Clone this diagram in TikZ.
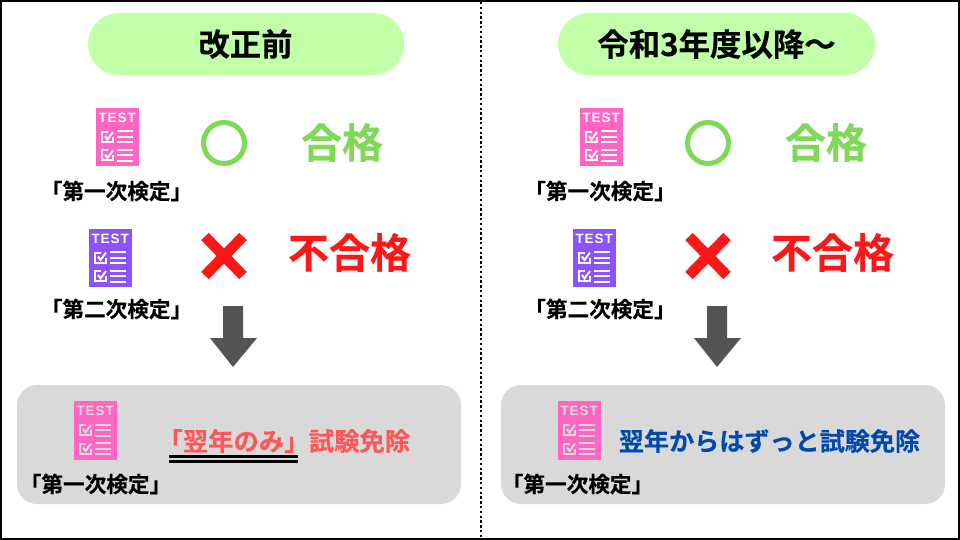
\documentclass[tikz,border=0pt]{standalone}
\usepackage{fontspec}
\setmainfont{Noto Sans CJK JP}[BoldFont={* Bold},BoldFeatures={FakeBold=0.25}]
\newfontfamily\iconfont{Liberation Sans}[BoldFont={* Bold},LetterSpace=7]
\definecolor{pillgreen}{HTML}{C1FFA8}
\definecolor{okgreen}{HTML}{7ED957}
\definecolor{ngred}{HTML}{FF1616}
\definecolor{softred}{HTML}{FF5757}
\definecolor{navy}{HTML}{004AAD}
\definecolor{pinkicon}{HTML}{FF66C4}
\definecolor{purpleicon}{HTML}{8C52FF}
\definecolor{panelgray}{HTML}{D9D9D9}
\definecolor{arrowgray}{HTML}{545454}
\tikzset{
  x=1pt,y=-1pt,
  pill/.style={fill=pillgreen,draw=none,rounded corners=31pt},
  titletext/.style={font=\fontsize{31.4}{31.4}\selectfont\bfseries},
  labeltext/.style={font=\fontsize{21.6}{21.6}\selectfont\bfseries},
  goodtext/.style={font=\fontsize{41}{41}\selectfont\bfseries,text=okgreen},
  badtext/.style={font=\fontsize{41}{41}\selectfont\bfseries,text=ngred},
  panel/.style={fill=panelgray,draw=none,rounded corners=20pt},
  bigarrow/.style={fill=arrowgray,draw=none},
  pics/testicon/.style n args={2}{code={
    \fill[#1] (0,0) rectangle (42.5,58.5);
    \node[text=#2,font=\iconfont\fontsize{13.5}{13.5}\selectfont\bfseries,inner sep=0pt] at (21.2,10) {TEST};
    \begin{scope}[draw=#2,line width=2pt]
      \foreach \yo in {0,18.5}{
        \draw (16.5,29+\yo) -- (16.5,34+\yo) -- (6,34+\yo) -- (6,24+\yo) -- (12,24+\yo);
        \draw (9,28+\yo) -- (11.5,31.5+\yo) -- (17,24+\yo);
        \draw (21,23.5+\yo) -- (37,23.5+\yo);
        \draw (21,29+\yo) -- (37,29+\yo);
        \draw (21,34.5+\yo) -- (37,34.5+\yo);
      }
    \end{scope}
  }}
}
\begin{document}
\begin{tikzpicture}
\useasboundingbox (0,0) rectangle (960,540);
\fill[white] (0,0) rectangle (960,540);
% title pills
\fill[pill] (88,13) rectangle (404,75);
\fill[pill] (558,13) rectangle (875,75);
\node[titletext] (titleL) at (245.5,44) {改正前};
\node[titletext] (titleR) at (716.5,44) {令和3年度以降～};
% left column
\pic at (96,108) {testicon={pinkicon}{white}};
\node[labeltext] (l1) at (116.5,191) {「第一次検定」};
\draw[okgreen,line width=5pt] (224,143) circle (20.5pt);
\node[goodtext] (gl) at (342,142.5) {合格};
\pic at (89,228.5) {testicon={purpleicon}{white}};
\node[labeltext] (l2) at (116.5,309) {「第二次検定」};
\draw[ngred,line width=10.5pt] (205,236.5) -- (243,275.5) (243,236.5) -- (205,275.5);
\node[badtext] (bl) at (349.5,252.5) {不合格};
\fill[bigarrow] (223,306) -- (243,306) -- (243,338) -- (257,338) -- (233,367) -- (210,338) -- (223,338) -- cycle;
\fill[panel] (17,385) rectangle (461,504);
\pic at (74,401) {testicon={pinkicon}{panelgray}};
\node[labeltext] (l3) at (95.5,484) {「第一次検定」};
\node[font=\fontsize{25.3}{25.3}\selectfont\bfseries,text=softred] (ta) at (233.5,441) {「翌年のみ」};
\node[font=\fontsize{25.3}{25.3}\selectfont\bfseries,text=softred] (tb) at (359.5,441) {試験免除};
\draw[black,line width=3pt] (169,456.5) -- (298,456.5);
\draw[black,line width=2.4pt] (169,461.3) -- (298,461.3);
% right column
\pic at (580,108) {testicon={pinkicon}{white}};
\node[labeltext] (r1) at (600,191) {「第一次検定」};
\draw[okgreen,line width=5pt] (708,143) circle (20.5pt);
\node[goodtext] (gr) at (826,142.5) {合格};
\pic at (573,228.5) {testicon={purpleicon}{white}};
\node[labeltext] (r2) at (600,309) {「第二次検定」};
\draw[ngred,line width=10.5pt] (689,236.5) -- (727,275.5) (727,236.5) -- (689,275.5);
\node[badtext] (br) at (832.5,252.5) {不合格};
\fill[bigarrow] (707,306) -- (727,306) -- (727,338) -- (741,338) -- (717,367) -- (694,338) -- (707,338) -- cycle;
\fill[panel] (501,385) rectangle (945,504);
\pic at (558,401) {testicon={pinkicon}{panelgray}};
\node[labeltext] (r3) at (577.5,484) {「第一次検定」};
\node[font=\fontsize{25.1}{25.1}\selectfont\bfseries,text=navy] (tc) at (769.5,441) {翌年からはずっと試験免除};
% divider and frame
\draw[black,line width=2.6pt,dash pattern=on 2.4pt off 2.4pt] (481,2) -- (481,538);
\draw[black,line width=2.4pt] (1.2,1.2) rectangle (958.8,538.8);
\end{tikzpicture}
\end{document}
